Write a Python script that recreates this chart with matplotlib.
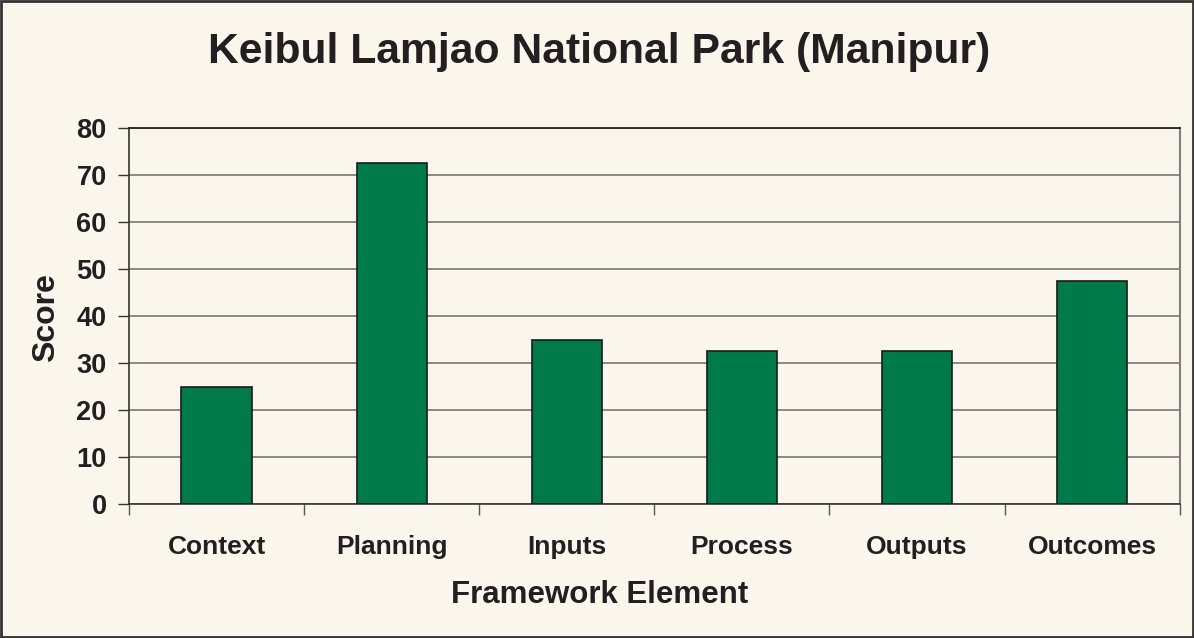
import matplotlib.pyplot as plt
import numpy as np
from matplotlib.patches import Rectangle

categories = ['Context', 'Planning', 'Inputs', 'Process', 'Outputs', 'Outcomes']
scores = [25, 72.5, 35, 32.5, 32.5, 47.5]

bg = '#FAF6EC'
bar_color = '#007A48'
txt = '#231F20'

plt.rcParams['font.family'] = ['Liberation Sans', 'DejaVu Sans']

fig = plt.figure(figsize=(11.94, 6.38), dpi=100, facecolor=bg)
ax = fig.add_axes([0.108, 0.210, 0.880, 0.589])
ax.set_facecolor(bg)

x = np.arange(len(categories))
ax.bar(x, scores, width=0.4, color=bar_color, edgecolor='#1a1a1a', linewidth=1.2, zorder=3)

ax.set_xlim(-0.5, len(categories) - 0.5)
ax.set_ylim(0, 80)
ax.set_yticks(range(0, 81, 10))
ax.yaxis.grid(True, color='#808080', linewidth=1.3, zorder=0)
ax.tick_params(axis='y', labelsize=19.5, length=8, width=1, color='#333333', pad=8,
               labelcolor=txt)
for lbl in ax.get_yticklabels():
    lbl.set_fontweight('bold')

# category ticks sit on the boundaries, labels in between
ax.set_xticks(np.arange(-0.5, len(categories), 1))
ax.set_xticklabels([])
ax.set_xticks(x, minor=True)
ax.set_xticklabels(categories, minor=True, fontsize=19, fontweight='bold', color=txt)
ax.tick_params(axis='x', which='major', length=8, width=1, color='#555555')
ax.tick_params(axis='x', which='minor', length=0, pad=22)

for s in ['left', 'bottom']:
    ax.spines[s].set_color('#333333')
    ax.spines[s].set_linewidth(1.2)
ax.spines['right'].set_color('#808080')
ax.spines['right'].set_linewidth(1.5)
ax.spines['top'].set_color('#222222')
ax.spines['top'].set_linewidth(1.3)

# axis titles are centred on the figure, not on the plot area
fig.text(0.0385, 0.5016, 'Score', rotation=90, fontsize=23, fontweight='bold',
         color=txt, ha='center', va='center')
fig.text(0.502, 0.0674, 'Framework Element', fontsize=22.5, fontweight='bold',
         color=txt, ha='center', va='center')
fig.suptitle('Keibul Lamjao National Park (Manipur)', fontsize=30.7, fontweight='bold',
             color=txt, x=0.502, y=0.95)

fig.patches.append(Rectangle((0.001, 0.001), 0.998, 0.998, transform=fig.transFigure,
                             fill=False, edgecolor='#333333', linewidth=2))

fig.savefig('out.png', dpi=100, facecolor=bg)
